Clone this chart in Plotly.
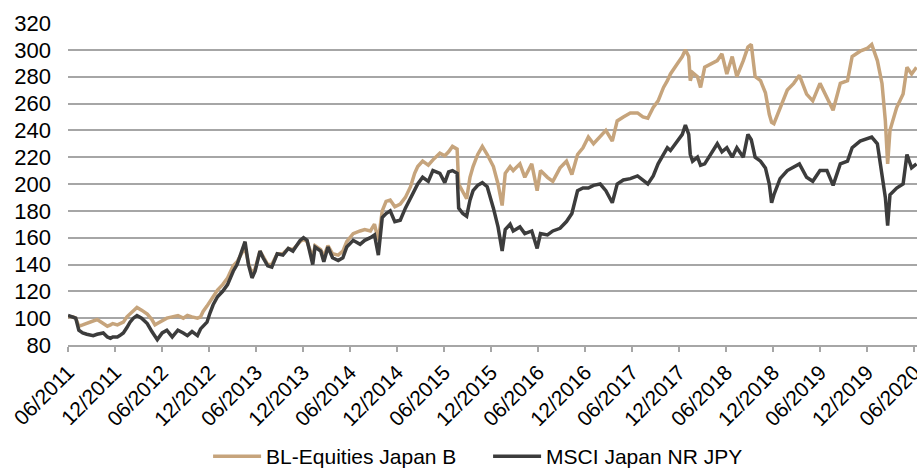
import plotly.graph_objects as go

dates = [
    "2011-06-01", "2011-06-20", "2011-07-01", "2011-07-13", "2011-07-28", "2011-08-13", "2011-09-07", "2011-09-22",
    "2011-10-16", "2011-11-01", "2011-11-13", "2011-11-22", "2011-12-10", "2011-12-19", "2012-01-02", "2012-01-16",
    "2012-01-28", "2012-02-10", "2012-02-24", "2012-03-13", "2012-04-04", "2012-04-22", "2012-05-04", "2012-05-13",
    "2012-06-01", "2012-06-19", "2012-07-10", "2012-08-01", "2012-08-22", "2012-09-07", "2012-09-25", "2012-10-16",
    "2012-10-28", "2012-11-07", "2012-11-22", "2012-12-04", "2012-12-16", "2013-01-02", "2013-01-22", "2013-02-10",
    "2013-03-04", "2013-03-19", "2013-04-07", "2013-04-19", "2013-05-02", "2013-05-16", "2013-05-28", "2013-06-16",
    "2013-06-28", "2013-07-16", "2013-08-01", "2013-08-22", "2013-09-13", "2013-10-04", "2013-10-22", "2013-11-07",
    "2013-11-19", "2013-12-02", "2013-12-16", "2014-01-07", "2014-01-16", "2014-02-07", "2014-02-19", "2014-03-07",
    "2014-03-25", "2014-04-16", "2014-05-04", "2014-05-19", "2014-06-13", "2014-07-10", "2014-07-28", "2014-08-19",
    "2014-09-04", "2014-09-19", "2014-10-04", "2014-10-19", "2014-11-04", "2014-11-22", "2014-12-13", "2015-01-02",
    "2015-01-22", "2015-02-07", "2015-02-19", "2015-03-10", "2015-04-01", "2015-04-19", "2015-05-16", "2015-06-04",
    "2015-06-19", "2015-07-04", "2015-07-22", "2015-07-28", "2015-08-13", "2015-08-28", "2015-09-10", "2015-09-22",
    "2015-10-10", "2015-10-28", "2015-11-16", "2015-12-10", "2015-12-28", "2016-01-13", "2016-01-25", "2016-02-13",
    "2016-02-25", "2016-03-22", "2016-04-10", "2016-05-07", "2016-05-28", "2016-06-10", "2016-07-07", "2016-07-28",
    "2016-08-25", "2016-09-19", "2016-10-10", "2016-11-01", "2016-11-22", "2016-12-13", "2017-01-02", "2017-01-28",
    "2017-02-19", "2017-03-16", "2017-04-04", "2017-04-28", "2017-05-25", "2017-06-22", "2017-07-13", "2017-08-01",
    "2017-08-22", "2017-09-10", "2017-10-01", "2017-10-16", "2017-10-28", "2017-11-25", "2017-12-13", "2017-12-25",
    "2018-01-07", "2018-01-13", "2018-01-22", "2018-02-10", "2018-02-22", "2018-03-10", "2018-04-07", "2018-04-28",
    "2018-05-16", "2018-06-04", "2018-06-25", "2018-07-13", "2018-08-07", "2018-08-25", "2018-09-07", "2018-09-22",
    "2018-10-13", "2018-11-01", "2018-11-16", "2018-11-25", "2018-12-04", "2018-12-28", "2019-01-25", "2019-02-19",
    "2019-03-13", "2019-04-10", "2019-05-04", "2019-06-01", "2019-06-28", "2019-07-22", "2019-08-19", "2019-09-16",
    "2019-10-04", "2019-11-04", "2019-12-01", "2019-12-19", "2020-01-10", "2020-01-28", "2020-02-10", "2020-02-19",
    "2020-02-28", "2020-03-25", "2020-04-19", "2020-05-04", "2020-05-22", "2020-06-10",
]

bl_equities = [
    101, 101, 100, 94, 95, 96, 98, 99,
    96, 94, 95, 96, 95, 96, 97, 101,
    103, 106, 108, 106, 103, 99, 95, 96,
    98, 100, 101, 102, 100, 102, 101, 100,
    101, 105, 109, 112, 116, 121, 125, 130,
    139, 142, 149, 153, 141, 133, 137, 150,
    146, 140, 140, 148, 148, 152, 151, 155,
    157, 159, 157, 145, 154, 151, 146, 154,
    148, 147, 150, 157, 163, 165, 166, 165,
    170, 158, 180, 187, 188, 183, 185, 190,
    198, 208, 213, 217, 214, 218, 223, 221,
    224, 228, 226, 200, 194, 189, 205, 213,
    222, 228, 222, 213, 200, 184, 208, 213,
    210, 215, 205, 215, 195, 210, 205, 202,
    212, 217, 207, 222, 227, 235, 230, 235,
    240, 232, 247, 250, 253, 253, 250, 249,
    257, 262, 272, 277, 282, 290, 295, 300,
    295, 277, 283, 280, 272, 287, 290, 292,
    297, 282, 295, 280, 292, 302, 304, 280,
    277, 268, 252, 246, 245, 257, 270, 275,
    281, 267, 262, 275, 265, 255, 275, 277,
    295, 299, 301, 304, 292, 275, 247, 215,
    240, 257, 267, 287, 282, 287,
]

msci_japan = [
    102, 101, 100, 91, 89, 88, 87, 88,
    89, 86, 85, 86, 86, 87, 89, 93,
    97, 100, 102, 100, 96, 90, 86, 84,
    89, 91, 86, 91, 89, 87, 90, 87,
    92, 94, 97, 104, 110, 116, 120, 125,
    135, 140, 150, 157, 140, 130, 135, 150,
    145, 139, 138, 148, 147, 152, 150, 155,
    158, 160, 158, 140, 153, 150, 142, 153,
    145, 143, 145, 153, 158, 155, 158, 160,
    162, 147, 175, 178, 180, 172, 173, 182,
    190, 196, 200, 205, 202, 210, 208, 201,
    209, 210, 208, 182, 178, 176, 188, 195,
    199, 201, 198, 182, 168, 150, 166, 170,
    165, 168, 163, 165, 152, 163, 162, 165,
    167, 172, 178, 195, 197, 197, 199, 200,
    195, 186, 200, 203, 204, 206, 203, 200,
    206, 215, 222, 227, 225, 232, 237, 244,
    237, 222, 217, 220, 214, 215, 224, 230,
    224, 227, 220, 227, 220, 237, 233, 220,
    217, 212, 200, 186, 192, 204, 210, 213,
    215, 205, 202, 210, 210, 199, 215, 217,
    227, 232, 234, 235, 230, 207, 190, 169,
    192, 197, 200, 222, 212, 215,
]

tick_dates = [
    "2011-06-01", "2011-12-01", "2012-06-01", "2012-12-01", "2013-06-01", "2013-12-01",
    "2014-06-01", "2014-12-01", "2015-06-01", "2015-12-01", "2016-06-01", "2016-12-01",
    "2017-06-01", "2017-12-01", "2018-06-01", "2018-12-01", "2019-06-01", "2019-12-01",
    "2020-06-01",
]
tick_labels = [
    "06/2011", "12/2011", "06/2012", "12/2012", "06/2013", "12/2013",
    "06/2014", "12/2014", "06/2015", "12/2015", "06/2016", "12/2016",
    "06/2017", "12/2017", "06/2018", "12/2018", "06/2019", "12/2019",
    "06/2020",
]
y_ticks = [80, 100, 120, 140, 160, 180, 200, 220, 240, 260, 280, 300, 320]

TAN = "#C6A47C"
DARK = "#3C3C3C"
GRID = "#A6A6A6"
FONT = "Liberation Sans, Arial, sans-serif"

fig = go.Figure()
fig.add_trace(go.Scatter(x=dates, y=bl_equities, mode="lines", name="BL-Equities Japan B",
                         line=dict(color=TAN, width=3.5)))
fig.add_trace(go.Scatter(x=dates, y=msci_japan, mode="lines", name="MSCI Japan NR JPY",
                         line=dict(color=DARK, width=3.5)))

fig.update_layout(
    width=917, height=468,
    margin=dict(l=68, r=0, t=23, b=123, autoexpand=False),
    paper_bgcolor="white", plot_bgcolor="white",
    font=dict(family=FONT, size=20, color="#000000"),
    showlegend=True,
    legend=dict(orientation="h", x=0.165, xanchor="left", y=-0.283, yanchor="top",
                font=dict(size=21, family=FONT, color="#000000"),
                itemwidth=48, entrywidth=217, traceorder="normal"),
    xaxis=dict(
        type="date", range=["2011-06-01", "2020-06-12"],
        tickmode="array", tickvals=tick_dates, ticktext=tick_labels, tickangle=-45,
        ticklabeloverflow="allow",
        showgrid=False, showline=True, linecolor=GRID, linewidth=1.5,
        ticks="outside", ticklen=5, tickcolor=GRID, tickwidth=1.5,
        tickfont=dict(size=21, family=FONT, color="#000000"), zeroline=False,
    ),
    yaxis=dict(
        range=[80, 320], tickmode="array", tickvals=y_ticks,
        showgrid=True, gridcolor=GRID, gridwidth=1.5, zeroline=False, showline=False,
        ticks="", ticklabelstandoff=16,
        tickfont=dict(size=22, family=FONT, color="#000000"),
    ),
)

fig.write_html(
    "out.html",
    config={"displayModeBar": False},
    post_script="document.body.style.margin='0';document.body.style.overflow='hidden';",
)
